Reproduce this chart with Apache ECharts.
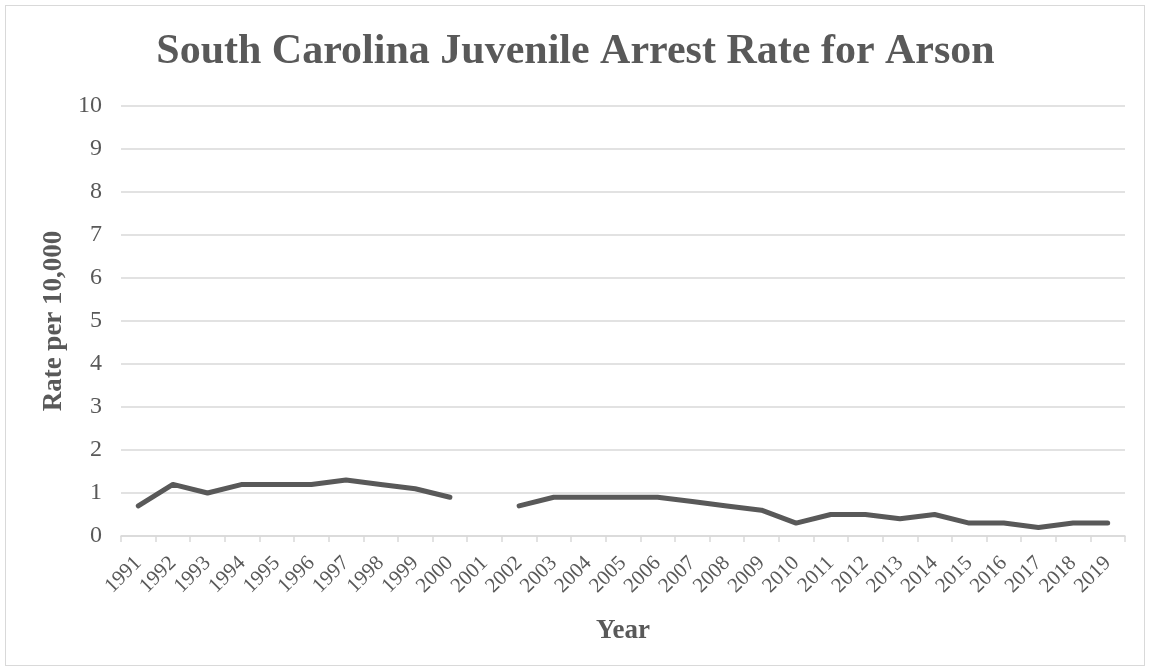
<!DOCTYPE html>
<html><head><meta charset="utf-8">
<script src="https://cdn.jsdelivr.net/npm/echarts@6/dist/echarts.min.js"></script>
<style>
html,body{margin:0;padding:0;background:#fff;}
#frame{position:absolute;left:5px;top:5px;width:1140px;height:661px;border:1px solid #d9d9d9;box-sizing:border-box;}
#chart{position:absolute;left:0;top:0;width:1151px;height:672px;}
</style></head>
<body>
<div id="frame"></div>
<div id="chart"></div>
<script>
const years = ['1991','1992','1993','1994','1995','1996','1997','1998','1999','2000','2001','2002','2003','2004','2005','2006','2007','2008','2009','2010','2011','2012','2013','2014','2015','2016','2017','2018','2019'];
const rates = [0.7,1.2,1.0,1.2,1.2,1.2,1.3,1.2,1.1,0.9,null,0.7,0.9,0.9,0.9,0.9,0.8,0.7,0.6,0.3,0.5,0.5,0.4,0.5,0.3,0.3,0.2,0.3,0.3];
const yTicks = [0,1,2,3,4,5,6,7,8,9,10];
const txt = '#595959';
const font = '"Liberation Serif","Times New Roman",serif';
const chart = echarts.init(document.getElementById('chart'));
chart.setOption({
  animation:false,
  title:{text:'South Carolina Juvenile Arrest Rate for Arson',left:'center',top:26,
    textStyle:{fontFamily:font,fontSize:42,fontWeight:'bold',color:txt}},
  grid:{left:121,right:26,top:106,bottom:136},
  xAxis:{type:'category',data:years,boundaryGap:true,
    name:'Year',nameLocation:'middle',nameGap:82,
    nameTextStyle:{fontFamily:font,fontSize:27,fontWeight:'bold',color:txt},
    axisLine:{lineStyle:{color:'#d9d9d9',width:1.5}},
    axisTick:{show:true,length:6,lineStyle:{color:'#d9d9d9',width:1.5}},
    axisLabel:{rotate:45,interval:0,fontFamily:font,fontSize:21,color:txt,margin:24}},
  yAxis:{type:'value',min:yTicks[0],max:yTicks[yTicks.length-1],interval:1,
    name:'Rate per 10,000',nameLocation:'middle',nameGap:52,nameRotate:90,
    nameTextStyle:{fontFamily:font,fontSize:27,fontWeight:'bold',color:txt},
    axisLine:{show:false},axisTick:{show:false},
    splitLine:{lineStyle:{color:'#d9d9d9',width:1.5}},
    axisLabel:{fontFamily:font,fontSize:24,color:txt,margin:19}},
  series:[{type:'line',data:rates,connectNulls:false,showSymbol:false,symbol:'none',
    lineStyle:{color:'#595959',width:5,cap:'round',join:'round'}}]
});
</script>
</body></html>
